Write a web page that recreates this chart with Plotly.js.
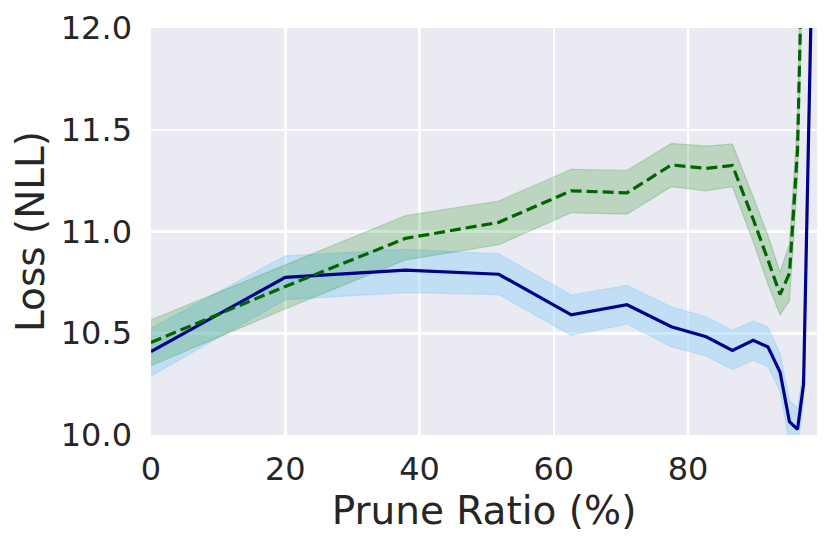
<!DOCTYPE html>
<html>
<head>
<meta charset="utf-8">
<script src="https://cdn.plot.ly/plotly-3.0.1.min.js"></script>
<style>
  html, body { margin: 0; padding: 0; background: #ffffff; }
  #plot { width: 831px; height: 547px; }
</style>
</head>
<body>
<div id="plot"></div>
<script>
// prune ratios (%) shared by both runs
const pruneRatio = [0, 20, 37.9, 51.8, 62.6, 70.9, 77.5, 82.7, 86.6, 89.7, 91.9, 93.7, 95.1, 96.3, 97.2, 98.3];

// solid blue run: mean and band
const blueMean  = [10.41, 10.775, 10.81, 10.79, 10.59, 10.64, 10.532, 10.483, 10.416, 10.465, 10.432, 10.308, 10.065, 10.028, 10.25, 12.05];
const blueUpper = [10.525, 10.88, 10.912, 10.89, 10.688, 10.735, 10.63, 10.58, 10.515, 10.56, 10.53, 10.40, 10.17, 10.13, 10.33, 12.2];
const blueLower = [10.29, 10.665, 10.70, 10.69, 10.49, 10.545, 10.434, 10.388, 10.322, 10.367, 10.336, 10.215, 9.96, 9.93, 10.17, 11.9];

// dashed green run: mean and band
const greenMean  = [10.455, 10.73, 10.966, 11.045, 11.20, 11.19, 11.327, 11.31, 11.325, 11.06, 10.86, 10.69, 10.795, 11.40, 12.7, 14.5];
const greenUpper = [10.565, 10.835, 11.078, 11.15, 11.306, 11.30, 11.433, 11.42, 11.43, 11.17, 10.98, 10.80, 10.94, 11.55, 12.9, 14.8];
const greenLower = [10.34, 10.62, 10.86, 10.935, 11.092, 11.085, 11.22, 11.20, 11.22, 10.95, 10.74, 10.59, 10.66, 11.25, 12.5, 14.2];

const xTicks = [0, 20, 40, 60, 80];
const yTicks = [10.0, 10.5, 11.0, 11.5, 12.0];
const yTickText = ['10.0', '10.5', '11.0', '11.5', '12.0'];

// a band is a lower edge plus an upper edge filled down to it
function band (upper, lower, rgba) {
    const lowerTrace = {
        x: pruneRatio, y: lower, type: 'scatter', mode: 'lines',
        line: { color: rgba, width: 1.2 },
        hoverinfo: 'skip', showlegend: false
    };
    const upperTrace = {
        x: pruneRatio, y: upper, type: 'scatter', mode: 'lines',
        fill: 'tonexty', fillcolor: rgba,
        line: { color: rgba, width: 1.2 },
        hoverinfo: 'skip', showlegend: false
    };
    return [lowerTrace, upperTrace];
}

const blueBand = band(blueUpper, blueLower, 'rgba(135,206,250,0.42)');
const greenBand = band(greenUpper, greenLower, 'rgba(0,128,0,0.2)');

const blueLine = {
    x: pruneRatio, y: blueMean, type: 'scatter', mode: 'lines',
    line: { color: '#00008B', width: 3.2 },
    showlegend: false
};

const greenLine = {
    x: pruneRatio, y: greenMean, type: 'scatter', mode: 'lines',
    line: { color: '#006400', width: 3.2, dash: '11px,5px' },
    showlegend: false
};

const tickFont = { family: 'DejaVu Sans', size: 32, color: '#262626' };
const titleFont = { family: 'DejaVu Sans', size: 39, color: '#262626' };

const layout = {
    width: 831,
    height: 547,
    margin: { l: 151, r: 14, t: 28, b: 112 },
    paper_bgcolor: '#ffffff',
    plot_bgcolor: '#EAEAF2',
    xaxis: {
        range: [0, 99.2],
        tickvals: xTicks,
        tickfont: tickFont,
        ticks: '',
        ticklabelstandoff: 12,
        showgrid: true, gridcolor: '#ffffff', gridwidth: 2.5,
        zeroline: false, showline: false,
        title: { text: 'Prune Ratio (%)', font: titleFont, standoff: 4 }
    },
    yaxis: {
        range: [10, 12],
        tickvals: yTicks,
        ticktext: yTickText,
        tickfont: tickFont,
        ticks: '',
        ticklabelstandoff: 18,
        showgrid: true, gridcolor: '#ffffff', gridwidth: 2.5,
        zeroline: false, showline: false,
        title: { text: 'Loss (NLL)', font: titleFont, standoff: 4 }
    },
    hovermode: false
};

Plotly.newPlot('plot', [...blueBand, ...greenBand, blueLine, greenLine], layout, { displayModeBar: false, staticPlot: true });
</script>
</body>
</html>
